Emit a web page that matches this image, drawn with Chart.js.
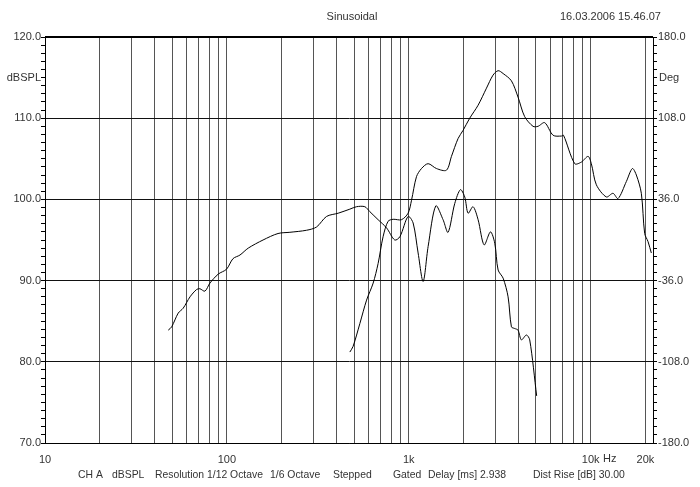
<!DOCTYPE html>
<html>
<head>
<meta charset="utf-8">
<script src="https://cdn.jsdelivr.net/npm/chart.js@4.4.0/dist/chart.umd.min.js"></script>
<style>
  body { margin: 0; background: #fff; }
  #wrap { width: 700px; height: 487px; }
</style>
</head>
<body>
<div id="wrap"><canvas id="chart" width="700" height="487"></canvas></div>
<script>
// curve starting low (woofer-ish response)
const lowFreq = [47.6, 49.7, 54, 57.5, 62.7, 68.1, 71, 75.7, 80.7, 89.6, 99.5, 108, 118, 131, 158, 191, 222, 274, 311, 353, 409, 474, 516, 573, 610, 678, 754, 837, 893, 991, 1056, 1125, 1199, 1277, 1407, 1543, 1643, 1789, 1922, 2030, 2118, 2256, 2404, 2594, 2811, 2969, 3097, 3300, 3514, 3666, 3822, 3985, 4159, 4430, 4621, 5045];
const lowSpl = [83.9, 84.3, 86.0, 86.6, 88.0, 88.9, 89.0, 88.7, 89.7, 90.8, 91.4, 92.7, 93.15, 94.0, 95.0, 95.8, 95.95, 96.2, 96.6, 97.9, 98.3, 98.8, 99.1, 99.1, 98.5, 97.5, 96.5, 95.0, 95.4, 97.9, 97.1, 93.4, 89.9, 94.2, 99.2, 97.5, 95.95, 99.5, 101.2, 100.3, 98.3, 99.1, 97.5, 94.4, 96.0, 94.6, 91.3, 90.3, 88.0, 84.3, 84.1, 83.9, 82.7, 83.3, 82.7, 75.8];

// curve starting at ~470 Hz (tweeter-ish response)
const highFreq = [474, 494, 538, 586, 637, 678, 722, 769, 820, 911, 991, 1035, 1102, 1174, 1277, 1419, 1611, 1716, 1866, 1987, 2162, 2404, 2673, 2904, 3097, 3300, 3666, 3985, 4333, 4819, 5130, 5585, 6210, 6900, 7085, 8170, 8890, 9670, 10080, 10740, 12190, 13260, 14130, 15700, 16940, 17820, 18980, 19800, 20660, 21540];
const highSpl = [81.2, 81.9, 84.7, 87.6, 89.7, 92.1, 95.4, 97.3, 97.55, 97.5, 98.3, 99.9, 102.8, 103.8, 104.4, 103.8, 103.6, 105.3, 107.5, 108.5, 110.0, 111.6, 113.7, 115.3, 115.85, 115.5, 114.6, 112.6, 110.2, 109.0, 109.0, 109.45, 107.9, 107.8, 107.9, 104.4, 104.6, 105.3, 104.4, 101.8, 100.3, 100.75, 100.1, 102.2, 103.8, 103.0, 100.75, 95.8, 94.8, 93.4];

// axes: grid at 1..9 x each decade, up to 20k
const freqGrid = [];
[10, 100, 1000, 10000].forEach(function (d) {
    for (let m = 1; m <= 9; m++) {
        if (d * m <= 20000) freqGrid.push(d * m);
    }
});
const freqLabels = { 10: '10', 100: '100', 1000: '1k', 10000: '10k', 20000: '20k' };
const splTicks = [];
for (let v = 70; v <= 120; v++) splTicks.push(v);
const degTicks = [];
for (let i = 0; i <= 50; i++) degTicks.push(Math.round((-180 + 7.2 * i) * 10) / 10);

const fontFamily = '"Liberation Sans", Arial, sans-serif';
const textFont = '11px ' + fontFamily;
const textColor = '#333';
const tickFont = { family: fontFamily, size: 11, weight: 'normal' };

const footer = [
    ['CH A', 78], ['dBSPL', 112], ['Resolution 1/12 Octave', 155], ['1/6 Octave', 270],
    ['Stepped', 333], ['Gated', 393], ['Delay [ms] 2.938', 428], ['Dist Rise [dB] 30.00', 533]
];

const extras = {
    id: 'extras',
    afterDraw: function (chart) {
        const c = chart.ctx;
        const a = chart.chartArea;
        c.save();
        // heavy top edge of the frame
        c.strokeStyle = '#000';
        c.lineWidth = 2;
        c.beginPath();
        c.moveTo(a.left, a.top);
        c.lineTo(a.right, a.top);
        c.stroke();

        c.font = textFont;
        c.fillStyle = textColor;
        c.textBaseline = 'middle';
        c.textAlign = 'center';
        c.fillText('Sinusoidal', 352, 17);
        c.textAlign = 'left';
        c.fillText('16.03.2006 15.46.07', 560, 17);
        c.fillText('Deg', 659, 78);
        c.fillText('Hz', 603, 459);
        c.font = '10.4px ' + fontFamily;
        footer.forEach(function (f) { c.fillText(f[0], f[1], 475); });
        c.font = textFont;
        c.textAlign = 'right';
        c.fillText('dBSPL', 41, 78);
        c.restore();
    }
};

const ctx = document.getElementById('chart').getContext('2d');
new Chart(ctx, {
    type: 'line',
    data: {
        datasets: [
            {
                data: lowFreq.map(function (f, i) { return { x: f, y: lowSpl[i] }; }),
                borderColor: '#000', borderWidth: 1, pointRadius: 0, tension: 0.3, fill: false
            },
            {
                data: highFreq.map(function (f, i) { return { x: f, y: highSpl[i] }; }),
                borderColor: '#000', borderWidth: 1, pointRadius: 0, tension: 0.3, fill: false
            }
        ]
    },
    options: {
        responsive: false,
        animation: false,
        layout: { padding: { top: 37, left: 0, right: 0, bottom: 0 } },
        plugins: { legend: { display: false }, tooltip: { enabled: false }, title: { display: false } },
        scales: {
            x: {
                type: 'logarithmic',
                min: 10, max: 22000,
                afterBuildTicks: function (s) { s.ticks = freqGrid.map(function (v) { return { value: v }; }); },
                afterFit: function (s) { s.height = 44; },
                ticks: {
                    autoSkip: false, maxRotation: 0, padding: 10,
                    font: tickFont, color: textColor,
                    callback: function (v) { return freqLabels[v] || ''; }
                },
                grid: { color: '#555', lineWidth: 1, drawTicks: false },
                border: { color: '#000', width: 1 }
            },
            y: {
                position: 'left',
                min: 70, max: 120,
                afterBuildTicks: function (s) { s.ticks = splTicks.map(function (v) { return { value: v }; }); },
                afterFit: function (s) { s.width = 45; },
                ticks: {
                    autoSkip: false, padding: 0,
                    font: tickFont, color: textColor,
                    callback: function (v) { return v % 10 === 0 ? v.toFixed(1) : ''; }
                },
                grid: {
                    drawTicks: true, tickLength: 4, tickColor: '#000',
                    color: function (c) { return c.tick && c.tick.value % 10 === 0 ? '#111' : 'rgba(0,0,0,0)'; }
                },
                border: { color: '#000', width: 1 }
            },
            y2: {
                position: 'right',
                min: -180, max: 180,
                afterBuildTicks: function (s) { s.ticks = degTicks.map(function (v) { return { value: v }; }); },
                afterFit: function (s) { s.width = 47; },
                ticks: {
                    autoSkip: false, padding: 1,
                    font: tickFont, color: textColor,
                    callback: function (v, i) { return i % 10 === 0 ? v.toFixed(1) : ''; }
                },
                grid: { drawOnChartArea: false, drawTicks: true, tickLength: 4, tickColor: '#000' },
                border: { color: '#000', width: 1 }
            }
        }
    },
    plugins: [extras]
});
</script>
</body>
</html>
